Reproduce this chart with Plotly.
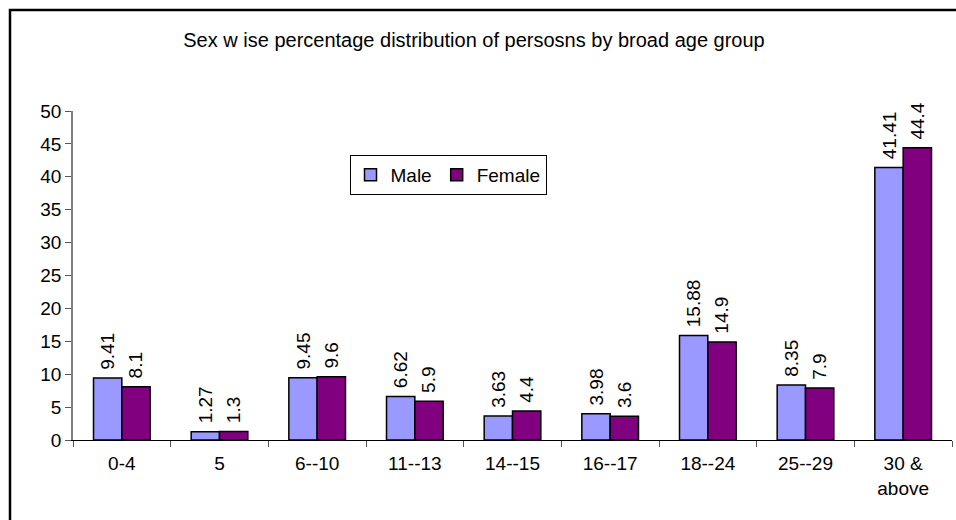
import plotly.graph_objects as go

categories = ["0-4", "5", "6--10", "11--13", "14--15", "16--17", "18--24", "25--29", "30 &<br>above"]
male = [9.41, 1.27, 9.45, 6.62, 3.63, 3.98, 15.88, 8.35, 41.41]
female = [8.1, 1.3, 9.6, 5.9, 4.4, 3.6, 14.9, 7.9, 44.4]
male_labels = ["9.41", "1.27", "9.45", "6.62", "3.63", "3.98", "15.88", "8.35", "41.41"]
female_labels = ["8.1", "1.3", "9.6", "5.9", "4.4", "3.6", "14.9", "7.9", "44.4"]
y_ticks = [0, 5, 10, 15, 20, 25, 30, 35, 40, 45, 50]

FONT = "Liberation Sans, Arial, sans-serif"
W, H = 956, 520
ML, MR, MT, MB = 73, 4, 111, 80

fig = go.Figure()
for name, vals, labels, color in [("Male", male, male_labels, "#9999FF"),
                                  ("Female", female, female_labels, "#800080")]:
    fig.add_trace(go.Bar(
        name=name, x=categories, y=vals, text=labels,
        texttemplate=" %{text}",
        textposition="outside", textangle=-90, cliponaxis=False,
        constraintext="none",
        textfont=dict(family=FONT, size=19, color="black"),
        marker=dict(color=color, line=dict(color="black", width=1.5)),
    ))

pw = W - ML - MR
ph = H - MT - MB

fig.update_layout(
    width=W, height=H,
    margin=dict(l=ML, r=MR, t=MT, b=MB),
    paper_bgcolor="white", plot_bgcolor="white",
    barmode="group", bargap=0.42, bargroupgap=0,
    font=dict(family=FONT, size=19, color="black"),
    title=dict(text="Sex w ise percentage distribution of persosns by broad age group",
               x=474 / W, xanchor="center", y=1 - 40 / H, yanchor="middle",
               font=dict(family=FONT, size=20, color="black")),
    showlegend=True,
    legend=dict(orientation="h", x=(448 - ML) / pw, xanchor="center",
                y=(H - MB - 175) / ph, yanchor="middle",
                bgcolor="white", bordercolor="black", borderwidth=1,
                font=dict(family=FONT, size=19, color="black"),
                traceorder="normal"),
    xaxis=dict(showline=True, linecolor="black", linewidth=1,
               ticks="outside", tickson="boundaries", ticklen=6, tickcolor="#555555",
               ticklabelstandoff=6,
               showgrid=False, tickfont=dict(family=FONT, size=19)),
    yaxis=dict(range=[0, 50], tickvals=y_ticks, showline=True, linecolor="#808080", linewidth=1.5,
               ticks="outside", ticklen=6, tickcolor="#555555", showgrid=False, zeroline=False,
               tickfont=dict(family=FONT, size=19)),
    shapes=[dict(type="rect", xref="paper", yref="paper",
                 x0=(10 - ML) / pw, x1=(970 - ML) / pw,
                 y0=(H - MB - 540) / ph, y1=(H - MB - 10) / ph,
                 line=dict(color="black", width=2.5), fillcolor="rgba(0,0,0,0)", layer="below")],
)

fig.write_html("out.html", config={"displayModeBar": False},
               post_script="document.body.style.margin='0';document.body.style.overflow='hidden';")
